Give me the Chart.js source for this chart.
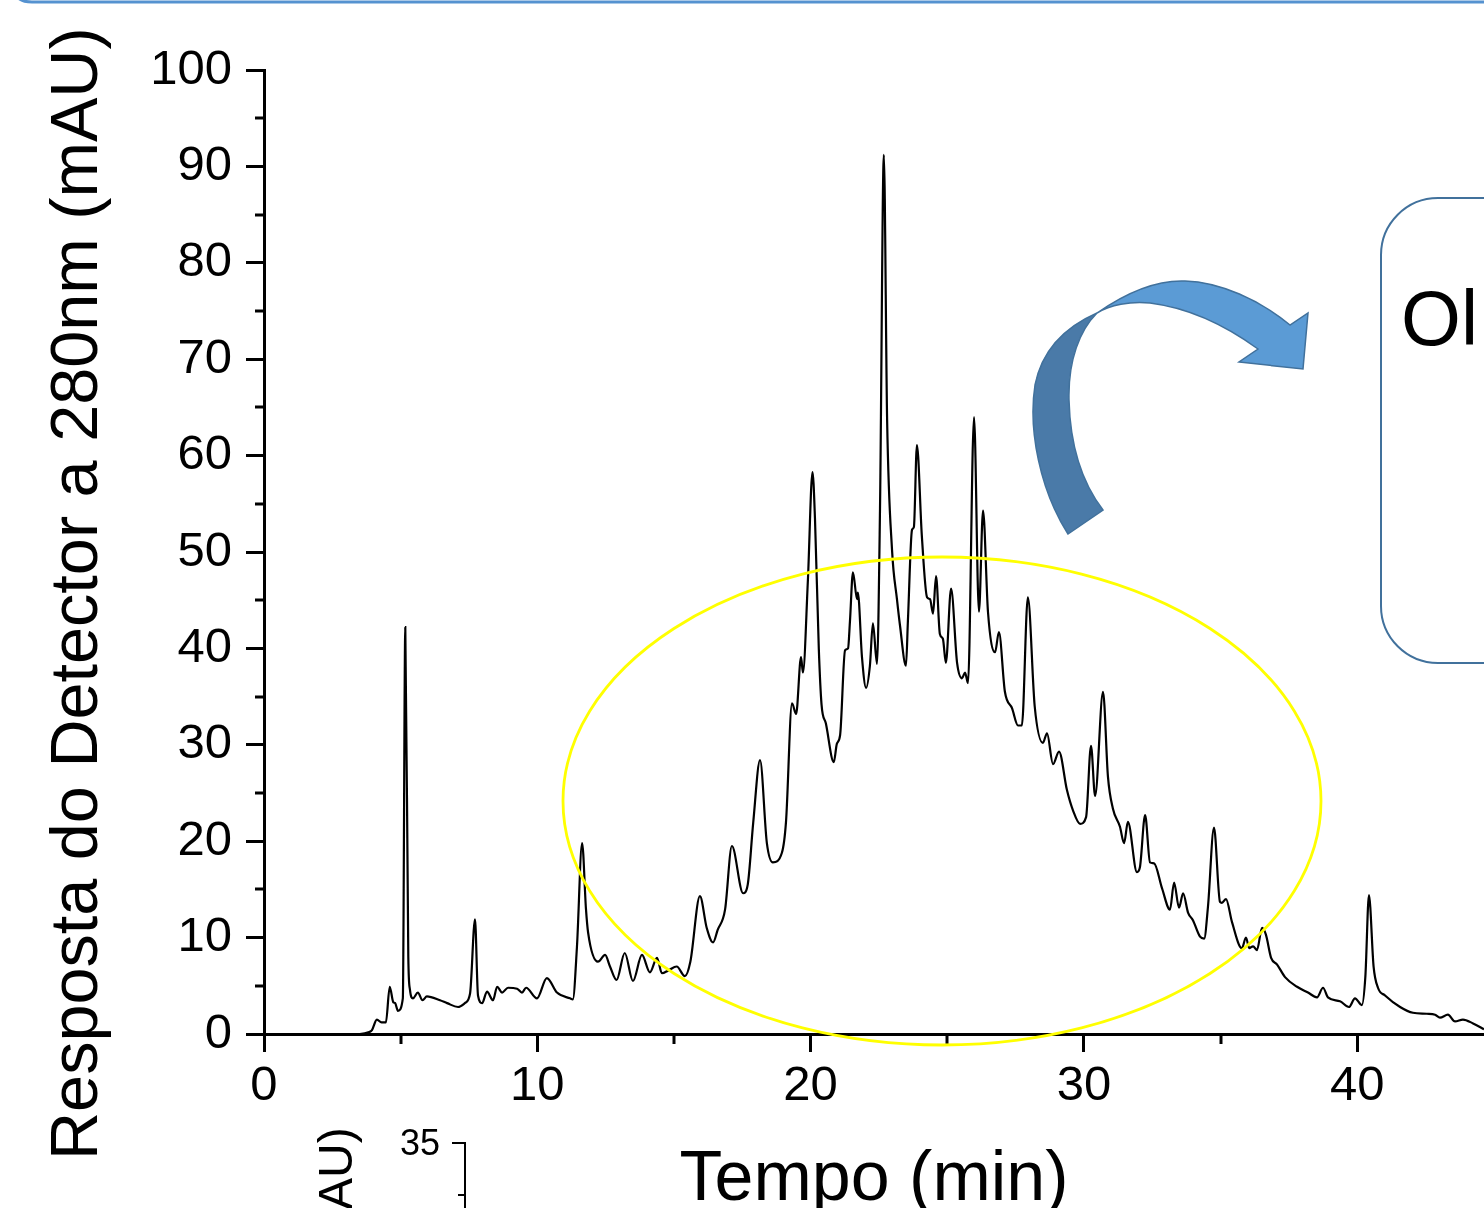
<!DOCTYPE html>
<html>
<head>
<meta charset="utf-8">
<script src="https://cdn.jsdelivr.net/npm/chart.js@4/dist/chart.umd.min.js"></script>
<style>
  html, body { margin:0; padding:0; width:1484px; height:1208px; overflow:hidden; background:#fff; }
  #wrap { position:relative; width:1484px; height:1208px; overflow:hidden; }
  canvas { position:absolute; left:0; top:0; }
  .txt { position:absolute; font-family:'Liberation Sans', Arial, sans-serif; color:#000; white-space:nowrap; line-height:1; }
  .rot { transform-origin:0 0; transform:rotate(-90deg); }
  svg { position:absolute; left:0; top:0; }
</style>
</head>
<body>
<div id="wrap">
  <canvas id="c" width="1484" height="1240"></canvas>
  <div class="txt rot" style="left:40.6px; top:1160px; font-size:66.6px;">Resposta do Detector a 280nm (mAU)</div>
  <div style="position:absolute; left:1380px; top:197px; width:300px; height:463px; border:2px solid #41719c; border-radius:58px;"></div>
  <div class="txt" style="left:1401px; top:280px; font-size:77px;">Ol</div>
  <div class="txt rot" style="left:312.4px; top:1210px; font-size:48px;">AU)</div>
  <div class="txt" style="left:400px; top:1124.5px; font-size:36px;">35</div>
  <svg width="1484" height="1208" viewBox="0 0 1484 1208">
    <path d="M14,-12 Q15,2 32,2 L1484,2" fill="none" stroke="#5592d0" stroke-width="3"/>
    <ellipse cx="942" cy="801" rx="379" ry="244" fill="none" stroke="#ffff00" stroke-width="2.8"/>
    <path d="M1068,534 C1040,490 1028,430 1035,385 C1042,350 1065,327 1097,313 C1080,330 1068,360 1069,400 C1070,440 1080,480 1103,510 Z" fill="#4a7aa8" stroke="#41719c" stroke-width="1.5"/>
    <path d="M1097,313 C1130,290 1160,280 1185,281 C1220,282 1260,300 1290,325 L1308,313 L1303,369 L1239,362 L1258,349 C1225,325 1190,308 1150,303 C1130,301 1110,305 1097,313 Z" fill="#5b9bd5" stroke="#41719c" stroke-width="1.5"/>
    <line x1="465" y1="1143" x2="465" y2="1210" stroke="#000" stroke-width="2"/>
    <line x1="452" y1="1143" x2="466" y2="1143" stroke="#000" stroke-width="2"/>
    <line x1="458" y1="1195" x2="466" y2="1195" stroke="#000" stroke-width="2"/>
  </svg>
</div>
<script>
const times = [0, 3.5, 3.85, 3.95, 4.13, 4.3, 4.46, 4.6, 4.73, 4.8, 4.9, 5.08, 5.17, 5.28, 5.34, 5.45, 5.63, 5.8, 5.96, 6.44, 6.7, 7.1, 7.35, 7.54, 7.72, 7.83, 7.98, 8.16, 8.38, 8.53, 8.71, 8.93, 9.26, 9.44, 9.59, 9.99, 10.35, 10.72, 11.2, 11.3, 11.45, 11.64, 11.78, 11.86, 12.22, 12.48, 12.66, 12.9, 13.2, 13.5, 13.83, 14.12, 14.38, 14.56, 14.8, 15.1, 15.4, 15.6, 15.95, 16.2, 16.43, 16.6, 16.87, 17.12, 17.53, 17.7, 17.9, 18.15, 18.4, 18.62, 18.95, 19.1, 19.32, 19.47, 19.65, 19.72, 19.9, 20.07, 20.16, 20.3, 20.4, 20.56, 20.85, 20.96, 21.08, 21.26, 21.37, 21.44, 21.55, 21.7, 21.73, 21.88, 22.03, 22.17, 22.28, 22.43, 22.54, 22.68, 22.8, 22.98, 23.16, 23.27, 23.49, 23.56, 23.71, 23.78, 23.89, 24.07, 24.26, 24.37, 24.48, 24.59, 24.73, 24.84, 24.95, 25.14, 25.36, 25.54, 25.65, 25.76, 25.98, 26.16, 26.31, 26.49, 26.75, 26.89, 27.11, 27.37, 27.59, 27.73, 27.95, 28.2, 28.5, 28.65, 28.87, 29.09, 29.38, 29.6, 29.86, 30.08, 30.26, 30.41, 30.7, 30.88, 31.06, 31.32, 31.47, 31.61, 31.94, 32.05, 32.24, 32.42, 32.57, 32.86, 33.15, 33.3, 33.48, 33.63, 33.81, 33.99, 34.25, 34.4, 34.54, 34.76, 34.98, 35.05, 35.2, 35.42, 35.78, 35.93, 36.05, 36.19, 36.33, 36.52, 36.66, 36.85, 37.07, 37.36, 37.8, 38.2, 38.53, 38.75, 38.93, 39.37, 39.7, 39.92, 40.17, 40.3, 40.43, 40.6, 40.76, 41.02, 41.57, 42.04, 42.55, 42.85, 43.03, 43.32, 43.58, 43.87, 44.24, 44.64];
const absorbance = [0, 0, 0.2, 0.4, 1.5, 1.2, 1.2, 4.9, 3.3, 3.2, 2.4, 3.7, 42.2, 8, 4.6, 3.7, 4.3, 3.5, 3.9, 3.5, 3.2, 2.8, 3.2, 4.2, 11.9, 4.0, 3.2, 4.4, 3.5, 4.9, 4.3, 4.8, 4.7, 4.3, 4.8, 3.7, 5.8, 4.3, 3.7, 3.6, 9, 19.8, 13, 10.5, 7.5, 8.2, 7.0, 5.6, 8.4, 5.5, 8.2, 6.4, 7.9, 6.3, 6.6, 7.0, 6.0, 7.5, 14.3, 11.0, 9.5, 10.8, 12.9, 19.5, 14.6, 15.5, 21.9, 28.4, 19.8, 17.8, 18.8, 22, 34.3, 33.2, 39.1, 37.5, 47, 58.3, 53.5, 40, 34.2, 32.2, 28.2, 30.1, 31, 39.8, 40, 42.8, 47.9, 45.1, 45.8, 39.1, 35.9, 38.2, 42.6, 38.4, 54.5, 91.2, 63.7, 50.2, 45.1, 42.4, 38.2, 42.8, 52.3, 52.6, 61.1, 51.7, 45.3, 45.1, 43.6, 47.5, 41.5, 41, 38.5, 46.2, 38.5, 36.9, 37.5, 36.4, 64, 43.8, 54.3, 43.8, 39.6, 41.7, 35.5, 33.8, 32, 32, 45.3, 34, 30.2, 31.2, 28, 29.3, 25.3, 23.2, 21.8, 22.5, 29.9, 24.7, 35.5, 26.7, 23.4, 21.5, 19.8, 22, 16.8, 17.3, 22.7, 17.8, 17.7, 15.1, 12.9, 15.7, 13.1, 14.6, 12.6, 11.8, 10.1, 9.9, 13.2, 21.4, 13.7, 13.6, 14, 11.6, 8.9, 10, 8.9, 9.1, 8.7, 11, 10.3, 7.9, 7.2, 5.9, 4.9, 4.3, 3.8, 4.8, 3.8, 3.4, 2.8, 3.7, 3.0, 6, 14.4, 7, 4.8, 4.0, 2.8, 2.2, 2.1, 2.0, 1.7, 2.0, 1.3, 1.5, 1.1, 0.5];
const xMajorTicks = [0, 10, 20, 30, 40];
const xMinorTicks = [5, 15, 25, 35];
const yMinorTicks = [5, 15, 25, 35, 45, 55, 65, 75, 85, 95];
const xTitle = 'Tempo (min)';

const FONT = "'Liberation Sans', Arial, sans-serif";

const minorTicks = {
  id: 'minorTicks',
  afterDraw(chart) {
    const {ctx, scales, chartArea} = chart;
    ctx.save();
    ctx.strokeStyle = '#000';
    ctx.lineWidth = 3;
    xMinorTicks.forEach(v => {
      const px = Math.round(scales.x.getPixelForValue(v));
      ctx.beginPath(); ctx.moveTo(px, chartArea.bottom); ctx.lineTo(px, chartArea.bottom + 10); ctx.stroke();
    });
    yMinorTicks.forEach(v => {
      const py = Math.round(scales.y.getPixelForValue(v));
      ctx.beginPath(); ctx.moveTo(chartArea.left - 9, py); ctx.lineTo(chartArea.left, py); ctx.stroke();
    });
    ctx.restore();
  }
};

new Chart(document.getElementById('c'), {
  type: 'line',
  data: {
    datasets: [{
      data: times.map((t, i) => ({x: t, y: absorbance[i]})),
      borderColor: '#000',
      borderWidth: 2.2,
      pointRadius: 0,
      cubicInterpolationMode: 'monotone',
      fill: false
    }]
  },
  options: {
    responsive: false,
    animation: false,
    devicePixelRatio: 1,
    layout: { padding: { left: 0, right: 0, top: 70, bottom: 0 } },
    plugins: { legend: { display: false }, tooltip: { enabled: false } },
    scales: {
      x: {
        type: 'linear',
        min: 0,
        max: 44.64,
        afterBuildTicks: s => { s.ticks = xMajorTicks.map(v => ({value: v})); },
        afterFit: s => { s.height = 206; },
        border: { display: true, color: '#000', width: 3 },
        grid: { drawOnChartArea: false, drawTicks: true, tickLength: 18, tickWidth: 3, tickColor: '#000', lineWidth: 3, color: '#000' },
        ticks: { color: '#000', font: { family: FONT, size: 49 }, padding: 5, maxRotation: 0 },
        title: { display: true, text: xTitle, color: '#000', font: { family: FONT, size: 70 }, padding: { top: 0, bottom: 17 } }
      },
      y: {
        min: 0,
        max: 100,
        afterFit: s => { s.width = 264; },
        border: { display: true, color: '#000', width: 3 },
        grid: { drawOnChartArea: false, drawTicks: true, tickLength: 18, tickWidth: 3, tickColor: '#000', lineWidth: 3, color: '#000' },
        ticks: { stepSize: 10, color: '#000', font: { family: FONT, size: 49 }, padding: 14 },
        title: { display: false }
      }
    }
  },
  plugins: [minorTicks]
});
</script>
</body>
</html>
